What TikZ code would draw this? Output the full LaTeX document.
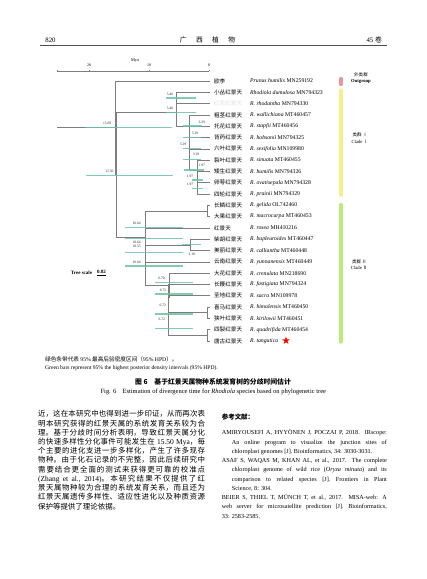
\documentclass[tikz,border=0pt]{standalone}
\usepackage{fontspec}
\setmainfont{Liberation Serif}
\newfontfamily\cjk{Noto Sans CJK SC}
\newcommand\latf{\rmfamily}
\usetikzlibrary{shapes.geometric}
\XeTeXlinebreaklocale "zh"
\XeTeXlinebreakskip=0pt plus 1.2pt
\definecolor{hpd}{RGB}{110,195,160}
\definecolor{tline}{RGB}{125,125,125}
\definecolor{cout}{RGB}{232,150,150}
\definecolor{cI}{RGB}{246,240,140}
\definecolor{cII}{RGB}{185,235,120}
\begin{document}
\begin{tikzpicture}[x=1.3934pt,y=-1.3934pt,
  edge/.style={draw=tline,line width=0.65pt},
  hpdbar/.style={draw=hpd,line width=1.9pt,opacity=0.85},
  age/.style={font=\fontsize{5}{5}\selectfont,inner sep=0pt,text=black!85},
  cnlab/.style={font=\cjk\fontsize{7.8}{8}\selectfont,anchor=west,inner sep=0pt},
  splab/.style={font=\fontsize{8}{8}\selectfont,anchor=west,inner sep=0pt},
  cladebar/.style={line width=4.6pt,line cap=round},
  cladelab/.style={font=\fontsize{6.5}{7}\selectfont,inner sep=0pt},
  hdr/.style={font=\fontsize{9.5}{10}\selectfont,inner sep=0pt},
  axlab/.style={font=\fontsize{5.5}{6}\selectfont,inner sep=0pt},
  body/.style={text width=232.7pt,align=justify,inner sep=0pt,anchor=north west,
    font=\cjk\fontsize{10.4}{12.86}\selectfont},
  refs/.style={text width=229.9pt,align=justify,inner sep=0pt,anchor=north west,
    font=\fontsize{8.6}{12.9}\selectfont}]
\useasboundingbox (0,0) rectangle (427,579);
\fill[white] (0,0) rectangle (427,579);

% ---------- header ----------
\node[hdr] (pgno) at (50.5,40) {820};
\node[hdr,font=\cjk\fontsize{9.5}{10}\selectfont] (journal) at (207.5,40) {广\hspace{13pt}西\hspace{13pt}植\hspace{13pt}物};
\node[hdr,anchor=east] (vol) at (382,40) {45 {\cjk 卷}};
\draw[line width=0.8pt,black!70] (40,45.7) coordinate (hl) -- (387,45.7) coordinate (hr);

% ---------- time axis ----------
\coordinate (ax0) at (57,71);
\coordinate (ax1) at (209,71);
\draw[tline,line width=0.5pt] (ax0) -- (ax1);
\foreach \xx/\lab [count=\k] in {89/20,149/10,209/0}{
  \draw[tline,line width=0.5pt] (\xx,71) -- (\xx,69.5);
  \node[axlab] (tick\k) at (\xx,65.3) {\lab};
}
\draw[tline,line width=0.5pt] (57,71) -- (57,69.5);
\node[axlab,font=\fontsize{6}{6}\selectfont] (mya) at (135,60.3) {Mya};

% ---------- tips ----------
\foreach \i/\cn/\sp/\ac/\col in {
 0/欧李/Prunus humilis/MN259192/black,
 1/小丛红景天/Rhodiola dumulosa/MN794323/black,
 2/红花红景天/R. rhodantha/MN794330/black!12,
 3/粗茎红景天/R. wallichiana/MT460457/black,
 4/托花红景天/R. stapfii/MT460456/black,
 5/背药红景天/R. hobsonii/MN794325/black,
 6/六叶红景天/R. sexifolia/MN109980/black,
 7/裂叶红景天/R. sinuata/MT460455/black,
 8/矮生红景天/R. humilis/MN794326/black,
 9/卵萼红景天/R. ovatisepala/MN794328/black,
 10/四轮红景天/R. prainii/MN794329/black,
 11/长鳞红景天/R. gelida/OL742460/black,
 12/大果红景天/R. macrocarpa/MT460453/black,
 13/红景天/R. rosea/MH410216/black,
 14/柴胡红景天/R. bupleuroides/MT460447/black,
 15/美丽红景天/R. calliantha/MT460448/black,
 16/云南红景天/R. yunnanensis/MT460449/black,
 17/大花红景天/R. crenulata/MN218690/black,
 18/长鞭红景天/R. fastigiata/MN794324/black,
 19/圣地红景天/R. sacra/MN109978/black,
 20/喜马红景天/R. himalensis/MT460450/black,
 21/狭叶红景天/R. kirilowii/MT460451/black,
 22/四裂红景天/R. quadrifida/MT460454/black,
 23/唐古红景天/R. tangutica//black}{
  \coordinate (t\i) at (209.5,{81+11.3*\i});
  \node[cnlab,text=\col] (cn\i) at (214,{81+11.3*\i}) {\cn};
  \node[splab] (sp\i) at (250,{81+11.3*\i}) {\textit{\sp} \ac};
}
\node[star,star points=5,star point ratio=2.4,fill=red,inner sep=0pt,minimum size=11pt] (star) at (286,340.6) {};

% ---------- internal nodes ----------
\coordinate (rs)   at (57,127.7);
\coordinate (nR)   at (114.9,127.7);
\coordinate (nIn)  at (116,174.45);
\coordinate (nI)   at (176.2,112.0);
\coordinate (nA)   at (176.2,97.95);
\coordinate (nB)   at (189.3,126.1);
\coordinate (nC)   at (189.3,137.3);
\coordinate (nD)   at (189.3,148.45);
\coordinate (nE)   at (189.3,159.4);
\coordinate (F1)   at (197.2,170.0);
\coordinate (F2)   at (197.2,179.9);
\coordinate (F3)   at (197.2,188.35);
\coordinate (nII)  at (145.2,236.9);
\coordinate (nP)   at (207.5,210.95);
\coordinate (nY)   at (145.2,262.85);
\coordinate (nX)   at (145.2,240.6);
\coordinate (nZ)   at (145.7,253.3);
\coordinate (n310) at (190.4,244.85);
\coordinate (G1)   at (168.8,285.1);
\coordinate (G2)   at (168.7,297.1);
\coordinate (G3)   at (168.7,309.8);
\coordinate (G4)   at (168.7,323.95);
\coordinate (H4)   at (207.5,312.65);
\coordinate (H5)   at (207.5,335.25);

% ---------- edges ----------
\draw[edge] (rs) -- (nR);
\foreach \p/\c in {nR/t0,nR/nIn,nIn/nI,nIn/nII,nI/nA,nI/nB,nA/t1,nA/t2,
  nB/t3,nB/nC,nC/t4,nC/nD,nD/t5,nD/nE,nE/t6,nE/F1,F1/t7,F1/F2,F2/t8,F2/F3,F3/t9,F3/t10,
  nII/nP,nII/nY,nP/t11,nP/t12,nY/nX,nY/G1,nX/t13,nX/nZ,nZ/n310,nZ/t16,n310/t14,n310/t15,
  G1/t17,G1/G2,G2/t18,G2/G3,G3/t19,G3/G4,G4/H4,G4/H5,H4/t20,H4/t21,H5/t22,H5/t23}{
  \draw[edge] (\p) |- (\c);
}

% ---------- 95% HPD bars ----------
\foreach \a/\b/\yy in {85/172.3/127.7, 86/172.7/175.5, 165.7/196/97.95, 165.7/196/112.5,
  182.7/201.7/126.1, 182.7/201/137.3, 182.7/201/148.45, 183/201/159.4,
  184/204/170, 192/203/179.9, 192/203/188.35,
  125/183/227.3, 125/183/238.3, 125/183/252.7, 125/183/266, 181.7/200.7/244.3,
  155/192.7/282.7, 155/192.7/294, 155/192.7/314, 155/192.7/328.3}{
  \draw[hpdbar] (\a,\yy) -- (\b,\yy);
}
\foreach \t/\xx/\yy [count=\k] in {15.69/107.2/123.8, 15.50/109.5/171.4, 5.46/170/94.3, 5.46/170/108.5,
  3.29/201.7/122.3, 3.29/195/133.3, 3.29/183/144.6, 3.29/196/154.8,
  1.97/201.7/165.5, 1.97/190/176.2, 1.97/190/184.8,
  10.64/136.7/223.6, 10.64/136.7/242.7, 10.55/136.7/246.7, 10.64/136.7/261.9, 3.10/191.7/254,
  6.70/161.5/278.4, 6.72/163/290.1, 6.72/162.7/305.2, 6.72/161.7/319.4}{
  \node[age] (age\k) at (\xx,\yy) {\t};
}

% ---------- tree scale ----------
\node[inner sep=0pt,font=\bfseries\fontsize{7}{7}\selectfont] (tsc) at (81.5,272.7) {Tree scale};
\node[inner sep=0pt,font=\bfseries\fontsize{7}{7}\selectfont,anchor=west] (tsv) at (97,272.3) {0.02};
\draw[line width=0.5pt] ([yshift=-1pt]tsv.south west) -- ([yshift=-1pt]tsv.south east);

% ---------- clade bars ----------
\draw[cladebar,cout] (341,78.6) coordinate (ob1) -- (341,84.4) coordinate (ob2);
\draw[cladebar,cI] (341,90.2) coordinate (yb1) -- (341,195.2) coordinate (yb2);
\draw[cladebar,cII] (341,204.6) coordinate (gb1) -- (341,342) coordinate (gb2);
\node[cladelab,font=\cjk\fontsize{6.3}{7}\selectfont] (og1) at (361,75) {外类群};
\node[cladelab,font=\bfseries\fontsize{6.5}{7}\selectfont] (og2) at (361,81) {Outgroup};
\node[cladelab,font=\cjk\fontsize{6.3}{7}\selectfont] (c1a) at (360,135) {类群 Ⅰ};
\node[cladelab] (c1b) at (360,141.7) {Clade {\cjk Ⅰ}};
\node[cladelab,font=\cjk\fontsize{6.3}{7}\selectfont] (c2a) at (359.3,261.7) {类群 Ⅱ};
\node[cladelab] (c2b) at (359.3,268.3) {Clade {\cjk Ⅱ}};

% ---------- captions ----------
\node[inner sep=0pt,anchor=west,font=\cjk\fontsize{7.9}{8}\selectfont] (cap1) at (45,359.3)
  {绿色条带代表 {\latf 95\%} 最高后验密度区间（{\latf 95\% HPD}）。};
\node[inner sep=0pt,anchor=west,font=\fontsize{7.8}{8}\selectfont] (cap2) at (45,368.3)
  {Green bars represent 95\% the highest posterior density intervals (95\% HPD).};
\node[inner sep=0pt,font=\cjk\bfseries\fontsize{9.5}{10}\selectfont] (fig1) at (213,381.7)
  {图 6\hspace{1em}基于红景天属物种系统发育树的分歧时间估计};
\node[inner sep=0pt,font=\fontsize{9}{10}\selectfont] (fig2) at (213.3,391.7)
  {Fig. 6\hspace{1em}Estimation of divergence time for \textit{Rhodiola} species based on phylogenetic tree};

% ---------- body text ----------
\node[body] (para) at (38,410.3) {\noindent 近，这在本研究中也得到进一步印证，从而再次表\linebreak
明本研究获得的红景天属的系统发育关系较为合\linebreak
理。基于分歧时间分析表明，导致红景天属分化\linebreak
的快速多样性分化事件可能发生在{\latf\ 15.50 Mya}，每\linebreak
个主要的进化支进一步多样化，产生了许多现存\linebreak
物种。由于化石记录的不完整，因此后续研究中\linebreak
需要结合更全面的测试来获得更可靠的校准点\linebreak
{\latf (Zhang et al., 2014)}。本研究结果不仅提供了红\linebreak
景天属物种较为合理的系统发育关系，而且还为\linebreak
红景天属遗传多样性、适应性进化以及种质资源\linebreak
保护等提供了理论依据。};

% ---------- references ----------
\node[inner sep=0pt,anchor=west,font=\cjk\bfseries\fontsize{9}{10}\selectfont] (refhead) at (221.7,416.7) {参考文献：};
\node[refs] (refs) at (221.7,429.6) {%
\noindent\hangindent=14pt\hangafter=1 AMIRYOUSEFI A, HYYÖNEN J, POCZAI P, 2018. IRscope:\linebreak
An online program to visualize the junction sites of\linebreak
chloroplast genomes [J]. Bioinformatics, 34: 3030-3031.\par
\noindent\hangindent=14pt\hangafter=1 ASAF S, WAQAS M, KHAN AL, et al., 2017. The complete\linebreak
chloroplast genome of wild rice (\textit{Oryza minuta}) and its\linebreak
comparison to related species [J]. Frontiers in Plant\linebreak
Science, 8: 304.\par
\noindent\hangindent=14pt\hangafter=1 BEIER S, THIEL T, MÜNCH T, et al., 2017. MISA-web: A\linebreak
web server for microsatellite prediction [J]. Bioinformatics,\linebreak
33: 2583-2585.};
\end{tikzpicture}
\end{document}
